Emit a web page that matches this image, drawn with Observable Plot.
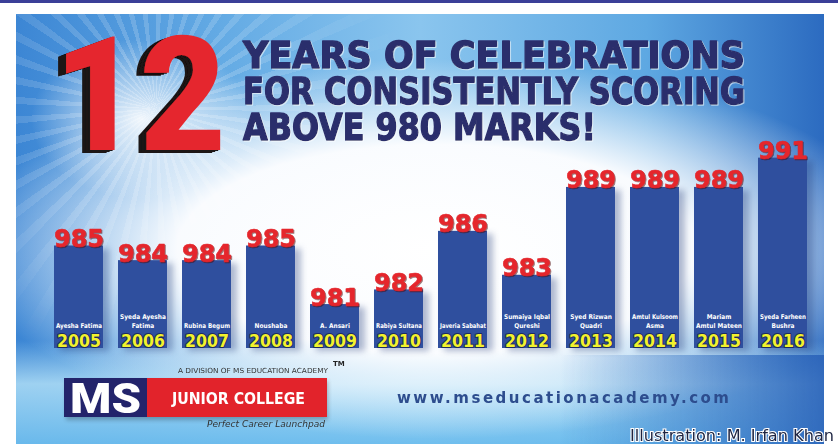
<!DOCTYPE html>
<html>
<head>
<meta charset="utf-8">
<script src="https://cdn.jsdelivr.net/npm/d3@7"></script>
<script src="https://cdn.jsdelivr.net/npm/@observablehq/plot@0.6"></script>
<style>
  html, body { margin: 0; padding: 0; background: #ffffff; }
  #stage { position: relative; width: 838px; height: 444px; overflow: hidden; background: #ffffff; }
  #topband { position: absolute; left: 0; top: 0; width: 838px; height: 3px; background: #3b3f98; }
  #banner {
    position: absolute; left: 16px; top: 14px; width: 808px; height: 430px;
    background:
      radial-gradient(ellipse 470px 190px at 420px 235px, rgba(255,255,255,1) 0%, rgba(252,253,255,0.98) 55%, rgba(255,255,255,0) 100%),
      linear-gradient(180deg, rgba(255,255,255,0) 76%, rgba(175,222,246,0.85) 86%, rgba(110,190,238,0.9) 100%),
      linear-gradient(90deg, #3c86d4 0%, #63aae4 25%, #8ac5ee 50%, #5ea8e2 78%, #2c6bc0 100%);
  }
  #rays {
    position: absolute; left: 16px; top: 14px; width: 808px; height: 430px;
    background: repeating-conic-gradient(from 0deg at 140px 95px, rgba(255,255,255,0.24) 0deg 3deg, rgba(255,255,255,0) 3deg 8deg);
    -webkit-mask-image: radial-gradient(circle at 140px 95px, rgba(0,0,0,1) 0px, rgba(0,0,0,0.6) 120px, rgba(0,0,0,0) 260px);
    mask-image: radial-gradient(circle at 140px 95px, rgba(0,0,0,1) 0px, rgba(0,0,0,0.6) 120px, rgba(0,0,0,0) 260px);
  }
  #glow {
    position: absolute; left: 16px; top: 14px; width: 808px; height: 430px;
    background: radial-gradient(ellipse 110px 80px at 125px 105px, rgba(255,255,255,0.9) 0%, rgba(255,255,255,0) 100%);
  }
  #plot { position: absolute; left: 0; top: 0; }
  #overlay { position: absolute; left: 0; top: 0; }
</style>
</head>
<body>
<div id="stage">
  <div id="topband"></div>
  <div id="banner"></div>
  <div id="rays"></div>
  <div id="glow"></div>
  <div id="plot"></div>
  <svg id="overlay" width="838" height="444" xmlns="http://www.w3.org/2000/svg">
    <defs>
      <linearGradient id="bottomBlue" x1="0" y1="0" x2="1" y2="0">
        <stop offset="0" stop-color="#2f6fc2" stop-opacity="0"/>
        <stop offset="1" stop-color="#2a62b8" stop-opacity="0.9"/>
      </linearGradient>
      <filter id="extrude" x="-10%" y="-10%" width="130%" height="130%">
        <feFlood flood-color="#1b1414" result="blk"/>
        <feComposite in="blk" in2="SourceAlpha" operator="in" result="sh"/>
        <feOffset in="sh" dx="-8" dy="3" result="sh1"/>
        <feOffset in="sh" dx="-5" dy="2" result="sh2"/>
        <feOffset in="sh" dx="-2.5" dy="1" result="sh3"/>
        <feMerge><feMergeNode in="sh1"/><feMergeNode in="sh2"/><feMergeNode in="sh3"/><feMergeNode in="SourceGraphic"/></feMerge>
      </filter>
      <filter id="titleShade" x="-5%" y="-20%" width="110%" height="140%">
        <feFlood flood-color="#ffffff" flood-opacity="0.55" result="w"/>
        <feComposite in="w" in2="SourceAlpha" operator="in" result="ws"/>
        <feOffset in="ws" dx="1" dy="1" result="wo"/>
        <feMerge><feMergeNode in="wo"/><feMergeNode in="SourceGraphic"/></feMerge>
      </filter>
    </defs>
    <!-- right-bottom deep blue wash -->
    <rect x="560" y="355" width="264" height="89" fill="url(#bottomBlue)"/>
    <!-- big 12 -->
    <text x="54" y="150" font-family="Roboto, Inter, 'Open Sans'" font-weight="900" font-size="160" fill="#e5282e" textLength="172" lengthAdjust="spacingAndGlyphs" filter="url(#extrude)">12</text>
    <!-- title -->
    <g font-family="'DejaVu Sans Condensed', 'DejaVu Sans'" font-weight="bold" font-size="38" fill="#2b2e6c" stroke="#2b2e6c" stroke-width="1.4" stroke-linejoin="round" filter="url(#titleShade)">
      <text x="243" y="68" textLength="502" lengthAdjust="spacingAndGlyphs">YEARS OF CELEBRATIONS</text>
      <text x="243" y="104" textLength="502" lengthAdjust="spacingAndGlyphs">FOR CONSISTENTLY SCORING</text>
      <text x="243" y="140" textLength="353" lengthAdjust="spacingAndGlyphs">ABOVE 980 MARKS!</text>
    </g>
    <!-- logo -->
    <text x="178" y="373" font-family="'DejaVu Sans Condensed', 'DejaVu Sans'" font-size="7" fill="#333" textLength="150" lengthAdjust="spacingAndGlyphs">A DIVISION OF MS EDUCATION ACADEMY</text>
    <text x="333" y="366" font-family="'DejaVu Sans'" font-weight="bold" font-size="7" fill="#222">TM</text>
    <rect x="66" y="381" width="262" height="39" fill="#000" opacity="0.25" style="filter:blur(2px)"/>
    <rect x="64" y="378" width="83" height="39" fill="#23246b"/>
    <rect x="147" y="378" width="180" height="39" fill="#e2232b"/>
    <text x="70" y="413" font-family="Roboto, Inter, 'Open Sans'" font-weight="900" font-size="42" fill="#ffffff" textLength="71" lengthAdjust="spacingAndGlyphs">MS</text>
    <text x="172" y="404" font-family="'DejaVu Sans Condensed', 'DejaVu Sans'" font-weight="bold" font-size="16" fill="#ffffff" textLength="133" lengthAdjust="spacingAndGlyphs">JUNIOR COLLEGE</text>
    <text x="207" y="427" font-family="'DejaVu Sans Condensed', 'DejaVu Sans'" font-style="italic" font-size="9.5" fill="#333" textLength="118" lengthAdjust="spacingAndGlyphs">Perfect Career Launchpad</text>
    <!-- url -->
    <text x="397" y="403" font-family="'DejaVu Sans'" font-weight="bold" font-size="15" fill="#2d4d8e" textLength="332" lengthAdjust="spacing">www.mseducationacademy.com</text>
    <!-- credit -->
    <text x="630" y="441" font-family="'DejaVu Sans Condensed', 'DejaVu Sans'" font-size="16" fill="#1d2442" stroke="#ffffff" stroke-width="2" paint-order="stroke" textLength="204" lengthAdjust="spacingAndGlyphs">Illustration: M. Irfan Khan</text>
  </svg>
</div>
<script>
// ---- data ----
const years  = ["2005","2006","2007","2008","2009","2010","2011","2012","2013","2014","2015","2016"];
const scores = [985, 984, 984, 985, 981, 982, 986, 983, 989, 989, 989, 991];
const names  = [
  "Ayesha Fatima",
  "Syeda Ayesha\nFatima",
  "Rubina Begum",
  "Noushaba",
  "A. Ansari",
  "Rabiya Sultana",
  "Javeria Sabahat",
  "Sumaiya Iqbal\nQureshi",
  "Syed Rizwan\nQuadri",
  "Amtul Kulsoom\nAsma",
  "Mariam\nAmtul Mateen",
  "Syeda Farheen\nBushra"
];
const yDomain = [978, 992];

const data = years.map((y, i) => ({year: y, score: scores[i], name: names[i], base: yDomain[0]}));

const narrow = "'DejaVu Sans Condensed', 'DejaVu Sans'";

const chart = Plot.plot({
  width: 838,
  height: 444,
  margin: 0,
  style: {background: "transparent", overflow: "visible"},
  x: {type: "band", domain: years, range: [41, 819.8], paddingInner: 0.23, paddingOuter: 0.115, axis: null},
  y: {domain: yDomain, range: [348, 143], axis: null},
  marks: [
    // shadow
    Plot.rectY(data, {x: "year", y1: "base", y2: "score", dx: 6, dy: 3, fill: "#1f3a78", fillOpacity: 0.35}),
    // bars
    Plot.rectY(data, {x: "year", y1: "base", y2: "score", fill: "#2f4f9e"}),
    // years
    Plot.text(data, {x: "year", y: "base", dy: -2, text: "year", lineAnchor: "bottom",
      fontFamily: "'DejaVu Sans Condensed', 'DejaVu Sans'", fontWeight: "bold", fontSize: 17.5,
      fill: "#f2f22c", stroke: "#1d2b5e", strokeWidth: 2, paintOrder: "stroke"}),
    // names
    Plot.text(data, {x: "year", y: "base", dy: -21, text: "name", lineAnchor: "bottom", lineHeight: 1.3,
      fontFamily: narrow, fontWeight: "bold", fontSize: 6.5,
      fill: "#ffffff"}),
    // value labels
    Plot.text(data, {x: "year", y: "score", dy: 1, text: d => String(d.score), lineAnchor: "bottom",
      fontFamily: "'DejaVu Sans'", fontWeight: "bold", fontSize: 24, fill: "#e5262c",
      stroke: "#e5262c", strokeWidth: 0.6})
  ]
});

const shadowG = chart.querySelectorAll("g[aria-label='rect']")[0];
if (shadowG) shadowG.style.filter = "blur(3px)";
const textGs = chart.querySelectorAll("g[aria-label='text']");
if (textGs[2]) textGs[2].style.filter = "drop-shadow(1px 1.5px 0.5px rgba(80,10,10,0.55))";
document.getElementById("plot").appendChild(chart);

// keep the small names inside their bars
const maxW = 46;
if (textGs[1]) {
  textGs[1].querySelectorAll("tspan, text").forEach(el => {
    if (el.tagName === "text" && el.querySelector("tspan")) return;
    const w = el.getComputedTextLength();
    if (w > maxW) {
      el.setAttribute("textLength", maxW);
      el.setAttribute("lengthAdjust", "spacingAndGlyphs");
    }
  });
}
</script>
</body>
</html>
